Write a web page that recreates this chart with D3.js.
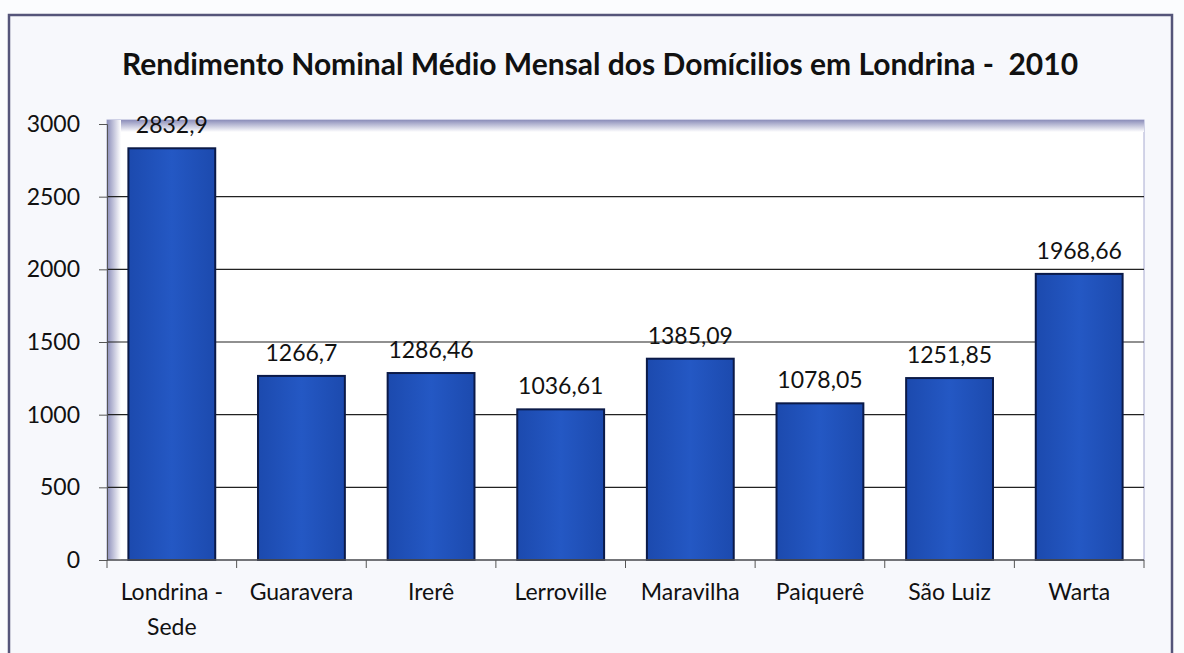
<!DOCTYPE html>
<html>
<head>
<meta charset="utf-8">
<script src="https://cdn.jsdelivr.net/npm/d3@7"></script>
<style>
body { margin: 0; background: #fbfcfe; }
svg { display: block; }
text { font-family: Lato, "Open Sans", sans-serif; }
</style>
</head>
<body>
<script>
var w = 1184;
var h = 653;

var bairros = ["Londrina - Sede", "Guaravera", "Irerê", "Lerroville", "Maravilha", "Paiquerê", "São Luiz", "Warta"];
var rendimento = [2832.9, 1266.7, 1286.46, 1036.61, 1385.09, 1078.05, 1251.85, 1968.66];
var rotulos = ["2832,9", "1266,7", "1286,46", "1036,61", "1385,09", "1078,05", "1251,85", "1968,66"];
var ticks = [0, 500, 1000, 1500, 2000, 2500, 3000];

var plotLeft = 107, plotRight = 1144, plotTop = 124, plotBottom = 560;

var svg = d3.select("body").append("svg")
  .attr("width", w)
  .attr("height", h)

var defs = svg.append("defs");
var grad = defs.append("linearGradient").attr("id", "bar").attr("x1", 0).attr("x2", 1);
grad.append("stop").attr("offset", "0%").attr("stop-color", "#1c4aae");
grad.append("stop").attr("offset", "50%").attr("stop-color", "#2458c4");
grad.append("stop").attr("offset", "100%").attr("stop-color", "#1c4aae");

var shTop = defs.append("linearGradient").attr("id", "shTop").attr("x1", 0).attr("x2", 0).attr("y1", 0).attr("y2", 1);
shTop.append("stop").attr("offset", "0%").attr("stop-color", "#8c8eba");
shTop.append("stop").attr("offset", "100%").attr("stop-color", "#ffffff");
var shLeft = defs.append("linearGradient").attr("id", "shLeft").attr("x1", 0).attr("x2", 1);
shLeft.append("stop").attr("offset", "0%").attr("stop-color", "#8c8eba");
shLeft.append("stop").attr("offset", "100%").attr("stop-color", "#ffffff");

// outer chart frame
svg.append("rect")
  .attr("x", 9).attr("y", 15).attr("width", 1163).attr("height", 645)
  .attr("fill", "#f7f8fc")
  .attr("stroke", "#55557a").attr("stroke-width", 2.5)

// plot area background with shadow on top and left
svg.append("rect")
  .attr("x", plotLeft).attr("y", plotTop - 4).attr("width", plotRight - plotLeft).attr("height", plotBottom - plotTop + 4)
  .attr("fill", "#ffffff")
  .attr("stroke", "#a8aad0").attr("stroke-width", 1)
svg.append("rect")
  .attr("x", plotLeft).attr("y", plotTop - 4).attr("width", plotRight - plotLeft).attr("height", 12)
  .attr("fill", "url(#shTop)")
svg.append("rect")
  .attr("x", plotLeft).attr("y", plotTop - 4).attr("width", 14).attr("height", plotBottom - plotTop + 4)
  .attr("fill", "url(#shLeft)")

var x = d3.scaleBand()
  .domain(bairros)
  .range([plotLeft, plotRight])
  .paddingInner(0.33)
  .paddingOuter(0.165)

var y = d3.scaleLinear()
  .domain([0, 3000])
  .range([plotBottom, plotTop])

// grid lines
svg.append("g")
  .selectAll("line")
  .data(ticks.filter(function(d){ return d > 0 && d < 3000; }))
  .join("line")
  .attr("x1", plotLeft).attr("x2", plotRight)
  .attr("y1", function(d){ return y(d); })
  .attr("y2", function(d){ return y(d); })
  .attr("stroke", "#222")
  .attr("stroke-width", 1.2)

// y axis
var yAxis = svg.append("g")
  .attr("transform", "translate(" + plotLeft + ",0)")
  .call(d3.axisLeft(y).tickValues(ticks).tickFormat(d3.format("d")).tickSize(8).tickPadding(19))
yAxis.select(".domain").attr("stroke", "#555")
yAxis.selectAll("line").attr("stroke", "#555")
yAxis.selectAll("text").attr("font-size", 23).attr("fill", "#111")

// bars
svg.append("g")
  .selectAll("rect")
  .data(rendimento)
  .join("rect")
  .attr("x", function(d, i){ return x(bairros[i]); })
  .attr("y", function(d){ return y(d); })
  .attr("width", x.bandwidth())
  .attr("height", function(d){ return plotBottom - y(d); })
  .attr("fill", "url(#bar)")
  .attr("stroke", "#0b1a48")
  .attr("stroke-width", 2)

// value labels
svg.append("g")
  .selectAll("text")
  .data(rendimento)
  .join("text")
  .attr("x", function(d, i){ return x(bairros[i]) + x.bandwidth() / 2; })
  .attr("y", function(d){ return y(d) - 15; })
  .attr("text-anchor", "middle")
  .attr("font-size", 23)
  .attr("fill", "#111")
  .text(function(d, i){ return rotulos[i]; })

// x axis
var xAxis = svg.append("g")
  .attr("transform", "translate(0," + plotBottom + ")")
xAxis.append("line")
  .attr("x1", plotLeft).attr("x2", plotRight).attr("y1", 0).attr("y2", 0)
  .attr("stroke", "#555").attr("stroke-width", 1.5)
xAxis.selectAll(".tk")
  .data(d3.range(bairros.length + 1))
  .join("line")
  .attr("class", "tk")
  .attr("x1", function(i){ return plotLeft + i * x.step(); })
  .attr("x2", function(i){ return plotLeft + i * x.step(); })
  .attr("y1", 0).attr("y2", 8)
  .attr("stroke", "#555")
xAxis.selectAll(".lbl")
  .data(bairros)
  .join("text")
  .attr("class", "lbl")
  .attr("x", function(d){ return x(d) + x.bandwidth() / 2; })
  .attr("y", 40)
  .attr("text-anchor", "middle")
  .attr("font-size", 23)
  .attr("fill", "#111")
  .each(function(d){
    var parts = d === "Londrina - Sede" ? ["Londrina -", "Sede"] : [d];
    d3.select(this).selectAll("tspan")
      .data(parts)
      .join("tspan")
      .attr("x", x(d) + x.bandwidth() / 2)
      .attr("dy", function(p, j){ return j === 0 ? 0 : 35; })
      .text(function(p){ return p; });
  })

// title
svg.append("text")
  .attr("x", 600).attr("y", 75)
  .attr("text-anchor", "middle")
  .attr("font-size", 30)
  .attr("font-weight", "bold")
  .attr("fill", "#111")
  .style("white-space", "pre")
  .text("Rendimento Nominal Médio Mensal dos Domícilios em Londrina -  2010")
</script>
</body>
</html>
